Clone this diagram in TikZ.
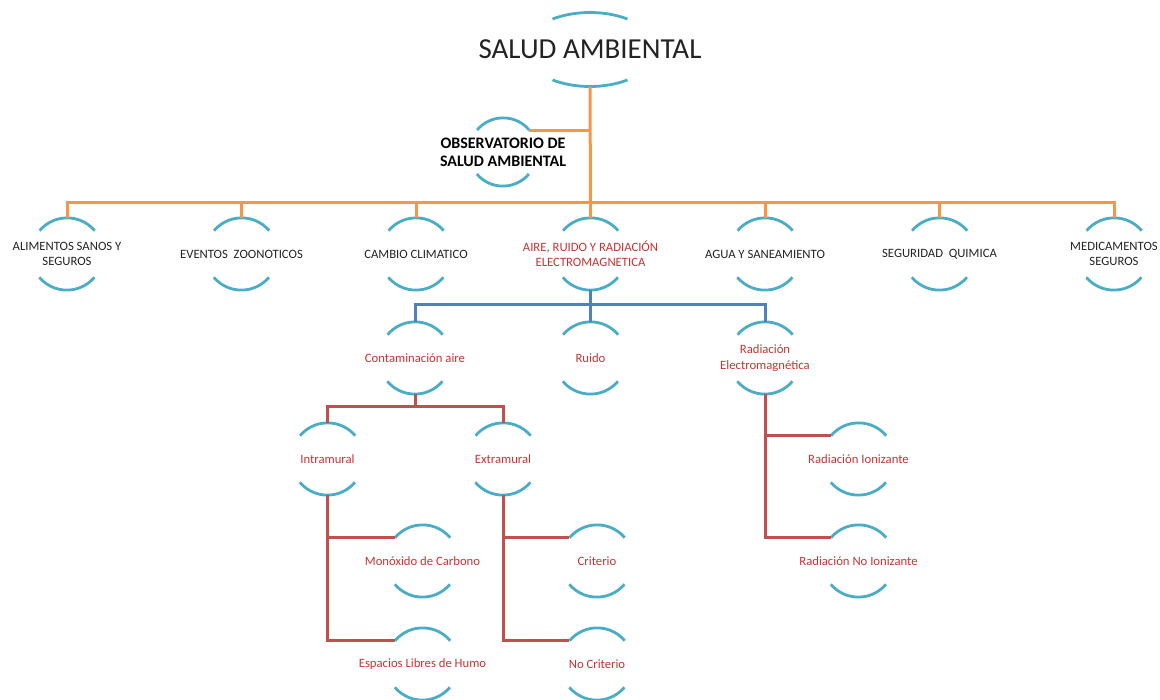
\documentclass[tikz,border=0pt]{standalone}
\usepackage{fontspec}
\setmainfont{Carlito}
\usetikzlibrary{shapes.geometric}
\definecolor{arcc}{RGB}{75,172,198}
\definecolor{orl}{RGB}{247,150,70}
\definecolor{bll}{RGB}{79,129,189}
\definecolor{rdl}{RGB}{192,80,77}
\definecolor{rdt}{RGB}{196,52,52}
\definecolor{blt}{RGB}{35,35,35}
\begin{document}
\begin{tikzpicture}[x=1pt,y=1pt,
  ring/.style={circle, minimum size=72pt, inner sep=0pt},
  smallring/.style={circle, minimum size=68pt, inner sep=0pt},
  rootshape/.style={ellipse, minimum width=132pt, minimum height=74pt, inner sep=0pt},
  lbl/.style={inner sep=0pt, align=center, font=\fontsize{12.7}{15}\selectfont},
  blktext/.style={lbl, text=blt},
  redtext/.style={lbl, text=rdt},
  arcline/.style={draw=arcc, line width=2.8pt},
  oline/.style={draw=orl, line width=3pt},
  bline/.style={draw=bll, line width=3pt},
  rline/.style={draw=rdl, line width=3pt}
]
\useasboundingbox (0,0) rectangle (1160,-700);

% root
\node[rootshape] (root) at (590,-49.5) {};
\node[inner sep=0pt, text=blt, font=\fontsize{29}{34}\selectfont] (root-t) at (root.center) {SALUD AMBIENTAL};
\draw[arcline] ([shift={(55.4:66 and 37)}]root.center) arc[start angle=55.4, end angle=124.6, x radius=66, y radius=37];
\draw[arcline] ([shift={(235.4:66 and 37)}]root.center) arc[start angle=235.4, end angle=304.6, x radius=66, y radius=37];

% observatorio
\node[smallring] (obs) at (503,-152) {};
\node[inner sep=0pt, align=center, text=black, font=\bfseries\fontsize{16}{18}\selectfont] (obs-t) at (obs.center) {OBSERVATORIO DE\\SALUD AMBIENTAL};
\draw[arcline] (obs.40) arc[start angle=40, end angle=140, radius=34];
\draw[arcline] (obs.220) arc[start angle=220, end angle=320, radius=34];

% level 1
\node[ring] (ali) at (67,-254) {};
\node[ring] (eve) at (241.5,-254) {};
\node[ring] (cam) at (416,-254) {};
\node[ring] (aire) at (590.5,-254) {};
\node[ring] (agua) at (765,-254) {};
\node[ring] (seg) at (939.5,-254) {};
\node[ring] (med) at (1114,-254) {};
\node[blktext] (ali-t) at (ali.center) {ALIMENTOS SANOS Y\\SEGUROS};
\node[blktext] (eve-t) at (eve.center) {EVENTOS\ \ ZOONOTICOS};
\node[blktext] (cam-t) at (cam.center) {CAMBIO CLIMATICO};
\node[redtext] (aire-t) at (aire.center) {AIRE, RUIDO Y RADIACIÓN\\ELECTROMAGNETICA};
\node[blktext] (agua-t) at (agua.center) {AGUA Y SANEAMIENTO};
\node[blktext] (seg-t) at (seg.center) {SEGURIDAD\ \ QUIMICA};
\node[blktext] (med-t) at (med.center) {MEDICAMENTOS\\SEGUROS};

% level 2
\node[ring] (cont) at (415,-358) {};
\node[ring] (ruido) at (590.5,-358) {};
\node[ring] (radem) at (765,-358) {};
\node[redtext] (cont-t) at (cont.center) {Contaminación aire};
\node[redtext] (ruido-t) at (ruido.center) {Ruido};
\node[redtext, font=\fontsize{12.7}{16}\selectfont] (radem-t) at (radem.center) {Radiación\\Electromagnética};

% level 3
\node[ring] (intra) at (327.5,-459) {};
\node[ring] (extra) at (503,-459) {};
\node[ring] (radion) at (858.5,-459) {};
\node[redtext] (intra-t) at (intra.center) {Intramural};
\node[redtext] (extra-t) at (extra.center) {Extramural};
\node[redtext] (radion-t) at (radion.center) {Radiación Ionizante};

% level 4
\node[ring] (mono) at (422.5,-561) {};
\node[ring] (crit) at (597,-561) {};
\node[ring] (radno) at (858.5,-561) {};
\node[redtext] (mono-t) at (mono.center) {Monóxido de Carbono};
\node[redtext] (crit-t) at (crit.center) {Criterio};
\node[redtext] (radno-t) at (radno.center) {Radiación No Ionizante};

% level 5
\node[ring] (esp) at (422.5,-664) {};
\node[ring] (nocrit) at (597,-664) {};
\node[redtext] (esp-t) at (esp.center) {Espacios Libres de Humo};
\node[redtext] (nocrit-t) at (nocrit.center) {No Criterio};

% arcs
\foreach \n in {ali,eve,cam,aire,agua,seg,med,cont,ruido,radem,intra,extra,radion,mono,crit,radno,esp,nocrit}{
  \draw[arcline] (\n.40) arc[start angle=40, end angle=140, radius=36];
  \draw[arcline] (\n.220) arc[start angle=220, end angle=320, radius=36];
}

% orange connectors
\coordinate (j1) at (590.5,-203);
\draw[oline] (root.south) -- (j1);
\draw[oline] (obs.40) -- (obs.40 -| root.south);
\draw[oline] (ali.north) -- (ali.north |- j1) -- (med.north |- j1) -- (med.north);
\foreach \n in {eve,cam,aire,agua,seg}{
  \draw[oline] (\n.north) -- (\n.north |- j1);
}

% blue connectors
\coordinate (j2) at (590.5,-305);
\draw[bline] (aire.south) -- (j2);
\draw[bline] (cont.north) -- (cont.north |- j2) -- (radem.north |- j2) -- (radem.north);
\draw[bline] (ruido.north) -- (ruido.north |- j2);

% red connectors
\coordinate (j3) at (415,-407);
\draw[rline] (cont.south) -- (j3);
\draw[rline] (intra.north) -- (intra.north |- j3) -- (extra.north |- j3) -- (extra.north);
\draw[rline] (intra.south) |- (esp.140);
\draw[rline] (mono.140) -- (mono.140 -| intra.south);
\draw[rline] (extra.south) |- (nocrit.140);
\draw[rline] (crit.140) -- (crit.140 -| extra.south);
\draw[rline] (radem.south) |- (radno.140);
\draw[rline] (radion.140) -- (radion.140 -| radem.south);
\end{tikzpicture}
\end{document}
